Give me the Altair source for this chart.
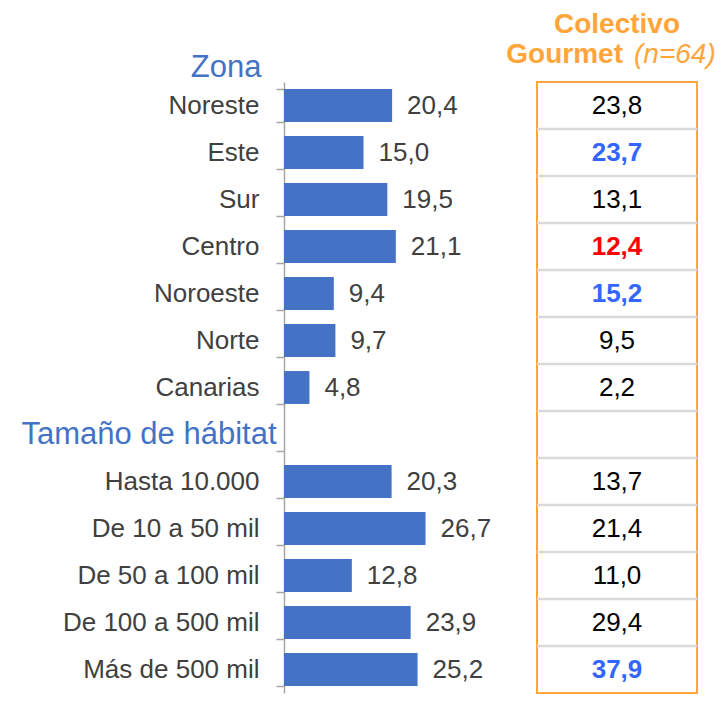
import altair as alt
import pandas as pd

FONT = "Liberation Sans"
BLUE = "#4472C4"
ORANGE = "#FFA53A"
GRAY = "#A6A6A6"
TXT = "#404040"

# ---- data ----
zona_cats = ["Noreste", "Este", "Sur", "Centro", "Noroeste", "Norte", "Canarias"]
zona_vals = [20.4, 15.0, 19.5, 21.1, 9.4, 9.7, 4.8]
hab_cats = ["Hasta 10.000", "De 10 a 50 mil", "De 50 a 100 mil", "De 100 a 500 mil", "Más de 500 mil"]
hab_vals = [20.3, 26.7, 12.8, 23.9, 25.2]

gourmet_zona = [23.8, 23.7, 13.1, 12.4, 15.2, 9.5, 2.2]
gourmet_hab = [13.7, 21.4, 11.0, 29.4, 37.9]
signif_zona = ["", "alto", "", "bajo", "alto", "", ""]
signif_hab = ["", "", "", "", "alto"]

heading_zona = "Zona"
heading_hab = "Tamaño de hábitat"
col_name = "Colectivo Gourmet"
header_l1 = "Colectivo"
header_l2a = "Gourmet"
header_l2b = "(n=64)"

all_cats = zona_cats + [heading_hab] + hab_cats

bars_df = pd.DataFrame({"cat": zona_cats + hab_cats, "valor": zona_vals + hab_vals})
table_df = pd.DataFrame({
    "cat": all_cats,
    "valor": gourmet_zona + [None] + gourmet_hab,
    "signif": signif_zona + [""] + signif_hab,
    "fila": list(range(len(all_cats))),
    "columna": [col_name] * len(all_cats),
})
header_df = pd.DataFrame({"columna": [col_name], "l1": [header_l1], "l2a": [header_l2a], "l2b": [header_l2b]})

fmt = "replace(format(datum.valor, '.1f'), '.', ',')"
is_head = f"datum.value == '{heading_hab}'"

H = 611

# ---- left panel: bars ----
y_left = alt.Y(
    "cat:N",
    sort=all_cats,
    scale=alt.Scale(domain=all_cats, paddingInner=0.3, paddingOuter=0.15),
    axis=alt.Axis(
        title=heading_zona, titleAngle=0, titleAlign="right", titleBaseline="alphabetic",
        titleX=-23, titleY=-6, titleFontSize=31, titleFontWeight="normal",
        titleColor=BLUE, titleFont=FONT,
        labelFont=FONT,
        labelFontSize={"condition": {"test": is_head, "value": 31}, "value": 26},
        labelColor={"condition": {"test": is_head, "value": BLUE}, "value": TXT},
        labelPadding={"condition": {"test": is_head, "value": 0}, "value": 17},
        labelLimit=400, tickBand="extent", tickSize=8, tickColor=GRAY, tickWidth=1.5,
        domainColor=GRAY, domainWidth=1.5, minExtent=271, maxExtent=271,
    ),
)
x_left = alt.X("valor:Q", scale=alt.Scale(domain=[0, 40]), axis=None)

bars = alt.Chart(bars_df).mark_bar(color=BLUE).encode(x=x_left, y=y_left)
bar_labels = alt.Chart(bars_df).transform_calculate(txt=fmt).mark_text(
    align="left", baseline="middle", dx=15, font=FONT, fontSize=26, color=TXT
).encode(x=x_left, y=y_left, text="txt:N")

left = alt.layer(bars, bar_labels).properties(width=212, height=H)

# ---- right panel: table ----
y_right = alt.Y("cat:N", sort=all_cats, scale=alt.Scale(domain=all_cats, paddingInner=0, paddingOuter=0), axis=None)
y_right_top = alt.Y("cat:N", sort=all_cats, bandPosition=0,
                    scale=alt.Scale(domain=all_cats, paddingInner=0, paddingOuter=0), axis=None)
x_right = alt.X("columna:N", scale=alt.Scale(type="point"), axis=None)

rules = alt.Chart(table_df).transform_filter("datum.fila > 0").mark_rule(
    color="#D9D9D9", strokeWidth=2.5
).encode(y=y_right_top)

color_enc = alt.Color("signif:N", scale=alt.Scale(domain=["", "alto", "bajo"], range=["#000000", "#3366FF", "#FF0000"]), legend=None)

t_normal = alt.Chart(table_df).transform_filter("isValid(datum.valor) && datum.signif == ''").transform_calculate(txt=fmt).mark_text(
    align="center", baseline="middle", font=FONT, fontSize=26
).encode(x=x_right, y=y_right, text="txt:N", color=color_enc)

t_bold = alt.Chart(table_df).transform_filter("isValid(datum.valor) && datum.signif != ''").transform_calculate(txt=fmt).mark_text(
    align="center", baseline="middle", font=FONT, fontSize=26, fontWeight="bold"
).encode(x=x_right, y=y_right, text="txt:N", color=color_enc)

h1 = alt.Chart(header_df).mark_text(
    align="center", baseline="alphabetic", font=FONT, fontSize=28, fontWeight="bold", color=ORANGE
).encode(x=x_right, y=alt.value(-49), text="l1:N")
h2a = alt.Chart(header_df).mark_text(
    align="right", baseline="alphabetic", dx=6, font=FONT, fontSize=28, fontWeight="bold", color=ORANGE
).encode(x=x_right, y=alt.value(-19), text="l2a:N")
h2b = alt.Chart(header_df).mark_text(
    align="left", baseline="alphabetic", dx=17, font=FONT, fontSize=28, fontStyle="italic", color=ORANGE
).encode(x=x_right, y=alt.value(-19), text="l2b:N")

right = alt.layer(rules, t_normal, t_bold, h1, h2a, h2b).properties(
    width=160, height=H, view=alt.ViewBackground(stroke=ORANGE, strokeWidth=2)
)

chart = alt.hconcat(left, right, spacing=41, bounds="flush").resolve_scale(
    y="independent", x="independent", color="independent"
).configure_view(strokeWidth=0).properties(
    padding={"left": 5, "top": 2, "right": 0, "bottom": 0}
)

chart.save("out.html", embed_options={"renderer": "svg", "actions": False})
